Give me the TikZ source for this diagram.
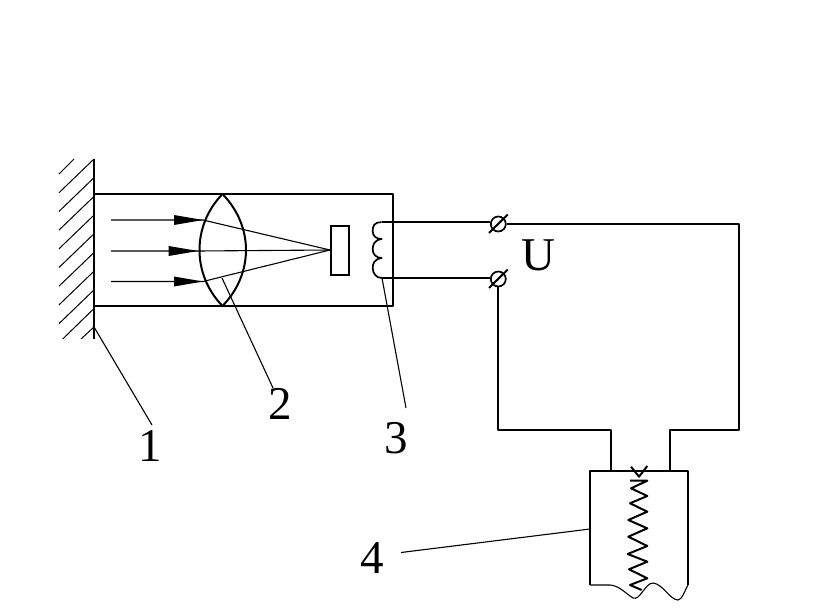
\documentclass[tikz,border=0pt]{standalone}
\usepackage{fontspec}
\setmainfont{Liberation Serif}
\tikzset{
  thick line/.style={line width=2pt,black,line join=round},
  thin line/.style={line width=1.1pt,black},
  hatch line/.style={line width=1pt,black},
  num/.style={font=\fontsize{47}{47}\selectfont,inner sep=0pt,text=black},
  pointer/.style={fill=black,draw=none}
}
\begin{document}
\begin{tikzpicture}[x=1pt,y=-1pt]
\useasboundingbox (0,0) rectangle (819,610);
% wall hatch
\draw[thick line] (94,159) -- (94,339);
\draw[hatch line] (59,174) -- (74,159);
\foreach \y in {159,177.7,196.4,215.1,233.8,252.5,271.2,289.9}
  \draw[hatch line] (59,\y+33.7) -- (94,\y);
\draw[hatch line] (62.7,339) -- (94,308.5);
\draw[hatch line] (81,339) -- (94,327);
% frame
\draw[thick line] (94,194) -- (393,194) -- (393,306) -- (94,306);
% rays
\coordinate (focus) at (330,250);
\draw[thin line] (111,220) -- (203,220) -- (focus);
\draw[thin line] (111,251) -- (198,251) -- (focus);
\draw[thin line] (111,281.5) -- (203,281.5) -- (focus);
\foreach \bx/\tx/\y in {174/203/220,168.7/198/251,174/203/281.5}
  \fill[pointer] (\bx,\y-5) -- (\tx,\y) -- (\bx,\y+5) -- cycle;
% lens
\draw[thick line] (222.5,194) .. controls (207,210) and (199.5,230) .. (199.5,250) .. controls (199.5,270) and (207,290) .. (222.5,306);
\draw[thick line] (222.5,194) .. controls (238,210) and (246,230) .. (246,250) .. controls (246,270) and (238,290) .. (222.5,306);
% sensor
\node[draw=black,line width=1.6pt,fill=white,minimum width=18pt,minimum height=49pt,inner sep=0pt,anchor=north west] (sensor) at (330,225) {};
% coil
\draw[thick line,line width=1.7pt] (381.7,222.3) .. controls (374,222) and (372.7,226) .. (372.7,231) .. controls (372.7,236) and (376,239) .. (381.7,239)
  .. controls (374,240) and (372.7,245) .. (372.7,249.5) .. controls (372.7,254) and (376,258) .. (381.7,258)
  .. controls (374,259) and (372.7,264) .. (372.7,268) .. controls (372.7,273) and (376,278) .. (381.7,278);
% terminals
\node[draw=black,circle,line width=1.7pt,minimum size=15pt,inner sep=0pt] (t1) at (498.3,224) {};
\node[draw=black,circle,line width=1.7pt,minimum size=15pt,inner sep=0pt] (t2) at (498.3,279) {};
\draw[thick line] (489,233) -- (507.7,214.5);
\draw[thick line] (489,288) -- (507.7,269.5);
% wires
\coordinate (c1) at (381.7,222);
\coordinate (c2) at (381.7,278);
\draw[thick line] (c1) -- (c1-|t1.west);
\draw[thick line] (c2) -- (c2-|t2.west);
\draw[thick line] (t1.east) -- (739.2,224) -- (739.2,430) -- (670,430) -- (670,471);
\draw[thick line] (t2.south) -- (498.3,430) -- (611,430) -- (611,471);
% gauge box
\draw[thick line] (590,585) -- (590,471) -- (687.7,471) -- (687.7,585);
\draw[thin line] (590,585) -- (610,585) .. controls (620,586) and (625,593) .. (633,598) .. controls (640,601) and (645,583) .. (653,583) .. controls (663,584) and (670,600) .. (678,600) .. controls (682,600) and (685,590) .. (688,585);
\draw[thick line] (631,466.7) -- (639,476.7) -- (647.3,466);
\draw[thick line] (630,480.7) -- (647.3,480.7) -- (631,488.3) -- (647.3,496) -- (630,503.3) -- (647.3,511.7) -- (628.3,520) -- (647.3,528.3) -- (628.3,536.7) -- (647.3,546) -- (627.7,554) -- (647.3,561.7) -- (629,569.3) -- (647.3,578.3) -- (630,585) -- (641.7,590);
% leaders
\coordinate (l1a) at (94,327); \coordinate (l1b) at (152,425);
\coordinate (l2a) at (222,278); \coordinate (l2b) at (273,388);
\coordinate (l3a) at (382,278); \coordinate (l3b) at (406,408);
\coordinate (l4a) at (590,529); \coordinate (l4b) at (401,552.5);
\draw[thin line] (l1a) -- (l1b);
\draw[thin line] (l2a) -- (l2b);
\draw[thin line] (l3a) -- (l3b);
\draw[thin line] (l4a) -- (l4b);
% labels
\node[num] (n1) at (150,446) {1};
\node[num] (n2) at (280,404) {2};
\node[num] (n3) at (396,438) {3};
\node[num] (n4) at (372,558) {4};
\node[num] (nU) at (538,255.5) {U};
\end{tikzpicture}
\end{document}
